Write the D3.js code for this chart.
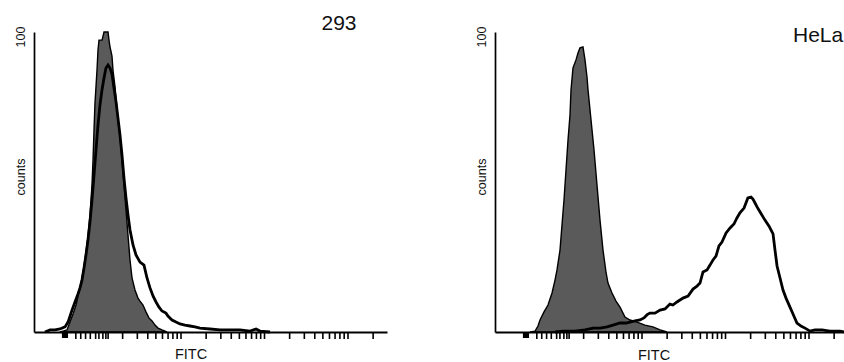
<!DOCTYPE html>
<html><head><meta charset="utf-8">
<script src="https://cdn.jsdelivr.net/npm/d3@7"></script>
<style>html,body{margin:0;padding:0;background:#fff;}svg{display:block;}</style>
</head><body>
<svg id="chart" width="844" height="362"></svg>
<script>
// ---- data (FITC intensity, counts) ----
const panelTitles = ["293", "HeLa"];
const yTickLabel = "100";
const yAxisTitle = "counts";
const xAxisTitle = "FITC";
const xDomain = [0.176, 2972];
const yDomain = [0, 100];

const control293 = [[0.360,0],[0.392,0.3],[0.437,0.7],[0.475,3.3],[0.516,6],[0.561,9],[0.592,12],[0.626,14.7],[0.661,18],[0.699,22],[0.738,26.7],[0.780,32],[0.824,39],[0.847,44],[0.871,49],[0.896,57.3],[0.921,67.3],[0.946,76.3],[1.0,87.3],[1.028,94],[1.057,97.3],[1.150,97.3],[1.213,100],[1.355,100],[1.392,97.3],[1.432,95],[1.512,92],[1.554,87.3],[1.643,81.7],[1.784,70.7],[1.885,65],[1.992,57.3],[2.105,49],[2.225,40.7],[2.351,32.3],[2.485,24],[2.626,18],[2.851,14],[3.097,11.3],[3.273,10.3],[3.555,9],[3.860,6.7],[4.19,4.7],[4.56,3.7],[4.95,2.3],[5.38,1.3],[6.00,0.7],[6.89,0]];

const sample293 = [[0.238,0],[0.274,0.7],[0.314,0.7],[0.360,1],[0.414,1.7],[0.450,3.3],[0.502,7.3],[0.545,10],[0.592,12.7],[0.626,14.7],[0.661,17.3],[0.699,21.3],[0.738,25.7],[0.780,30.7],[0.824,36.7],[0.871,44],[0.921,52.3],[0.973,60.7],[1.028,69],[1.086,75.7],[1.148,80.7],[1.213,84.7],[1.281,88],[1.355,89],[1.432,88],[1.512,86],[1.598,81.3],[1.690,76.7],[1.784,71.3],[1.885,65.7],[1.992,59],[2.105,51.3],[2.225,44.7],[2.351,39],[2.485,34],[2.699,29],[2.931,25.7],[3.273,23.3],[3.654,22.3],[3.969,18],[4.313,14.7],[4.685,12],[5.09,10],[5.53,8.3],[6.00,7],[6.70,6.3],[7.08,5.3],[7.91,4],[8.84,3.3],[9.86,2.7],[11.3,2.3],[13.0,2],[14.9,1.7],[17.1,1.3],[22.5,1],[29.7,0.7],[39.1,0.7],[51.6,0.7],[68.0,0.3],[80.2,1],[89.6,0.3],[118,0]];

const controlHeLa = [[0.462,0],[0.531,0.3],[0.576,2],[0.609,4],[0.680,6.7],[0.759,9],[0.848,13],[0.921,17.3],[0.973,20.7],[1.057,27.3],[1.117,35.7],[1.180,44],[1.247,54],[1.318,64],[1.392,72.3],[1.432,80.7],[1.512,88],[1.643,90.7],[1.736,93],[1.833,94.7],[1.992,95],[2.105,90.7],[2.225,85],[2.288,80.7],[2.485,70.7],[2.699,60.7],[2.931,49],[3.184,37.3],[3.459,27.3],[3.756,20],[3.969,16.3],[4.433,13],[4.95,10.3],[5.53,8.3],[6.34,5],[7.28,4],[8.84,3.3],[11.0,2.3],[13.7,1.7],[16.7,0.7],[20.2,0]];

const sampleHeLa = [[0.921,0],[1.148,0.3],[1.598,0.3],[2.105,0.7],[2.626,1.3],[3.184,1.3],[3.860,1.7],[4.56,2.3],[5.53,3],[6.52,3],[7.28,3.3],[8.36,3.7],[9.60,4],[10.7,4.7],[11.6,5.7],[12.6,6.3],[14.5,6.3],[16.7,7.3],[19.1,7.7],[21.9,9.3],[23.8,9],[26.6,10],[31.4,11.3],[36.1,12],[41.4,14.3],[46.2,15.3],[50.2,16.3],[54.5,20],[60.9,20.7],[66.1,22.3],[71.8,24],[78.0,25.3],[84.7,28.7],[92.0,30],[103,33],[115,34.7],[128,36],[139,38],[151,39.7],[169,41.3],[188,44.7],[205,45],[216,44.3],[229,43],[242,41.7],[263,40],[301,37.3],[337,35.3],[376,32.7],[397,27.3],[420,22],[456,18],[495,14],[538,11.3],[600,8.3],[652,6],[728,3],[813,2],[908,1.3],[1042,0.3],[1196,0.7],[1452,0.7],[1807,0.3],[2384,0.3],[2661,0]];

const firstTicks = [0.55,0.63,0.72,0.82,0.95,1.04,1.16,1.26,1.34];
const decadeTicks = [2,3,4,5,6,7,8,9,10,20,30,40,50,60,70,80,90,100,200,300,400,500,600,700,800,900,1000,2000];
const markerRange = [0.38, 0.45];

const controls = [control293, controlHeLa];
const samples = [sample293, sampleHeLa];

// ---- layout ----
const svg = d3.select("#chart");
const font = "'Liberation Sans', Arial, Helvetica, sans-serif";
const panelX0 = [34, 495];
const axisLen = 353;
const y = d3.scaleLinear().domain(yDomain).range([332, 32]);
const titlePos = [{x:339, y:30, anchor:"middle"}, {x:793, y:41.5, anchor:"start"}];
const fitcPos = [{x:191, y:359}, {x:654, y:359.5}];
const labelX = [25, 486];

panelTitles.forEach((title, i) => {
  const x0 = panelX0[i];
  const x = d3.scaleLog().domain(xDomain).range([x0, x0 + axisLen]);
  const g = svg.append("g");

  g.append("path")
    .datum(controls[i])
    .attr("d", d3.area().x(d => x(d[0])).y0(y(0)).y1(d => y(d[1])))
    .attr("fill", "#5a5a5a")
    .attr("stroke", "#000")
    .attr("stroke-width", 1.4)
    .attr("stroke-linejoin", "miter");

  g.append("path")
    .datum(samples[i])
    .attr("d", d3.line().x(d => x(d[0])).y(d => y(d[1])))
    .attr("fill", "none")
    .attr("stroke", "#000")
    .attr("stroke-width", 2.8)
    .attr("stroke-linejoin", "miter");

  const xAxis = g.append("g")
    .attr("transform", `translate(0,${y(0)})`)
    .call(d3.axisBottom(x).tickValues(firstTicks.concat(decadeTicks)).tickSize(7).tickSizeOuter(0).tickFormat(""));
  xAxis.select(".domain").attr("stroke", "#000").attr("stroke-width", 2.2);
  xAxis.selectAll(".tick line").attr("stroke", "#000").attr("stroke-width", 1.6);

  g.append("rect")
    .attr("x", x(markerRange[0]))
    .attr("y", y(0) + 1)
    .attr("width", x(markerRange[1]) - x(markerRange[0]))
    .attr("height", 5)
    .attr("fill", "#000");

  const yAxis = g.append("g")
    .attr("transform", `translate(${x0},0)`)
    .call(d3.axisLeft(y).tickValues([]).tickSizeOuter(0));
  yAxis.select(".domain").attr("stroke", "#000").attr("stroke-width", 1.7);

  g.append("text")
    .attr("transform", `translate(${labelX[i]},${y(yDomain[1]) + 5}) rotate(-90)`)
    .attr("text-anchor", "middle")
    .attr("font-family", font).attr("font-size", 12.5).attr("fill", "#111")
    .text(yTickLabel);
  g.append("text")
    .attr("transform", `translate(${labelX[i]},177) rotate(-90)`)
    .attr("text-anchor", "middle")
    .attr("font-family", font).attr("font-size", 12.5).attr("fill", "#111")
    .text(yAxisTitle);
  g.append("text")
    .attr("x", fitcPos[i].x).attr("y", fitcPos[i].y)
    .attr("text-anchor", "middle")
    .attr("font-family", font).attr("font-size", 14.5).attr("fill", "#111")
    .text(xAxisTitle);
  g.append("text")
    .attr("x", titlePos[i].x).attr("y", titlePos[i].y)
    .attr("text-anchor", titlePos[i].anchor)
    .attr("font-family", font).attr("font-size", 21).attr("fill", "#111")
    .text(title);
});
</script>
</body></html>
